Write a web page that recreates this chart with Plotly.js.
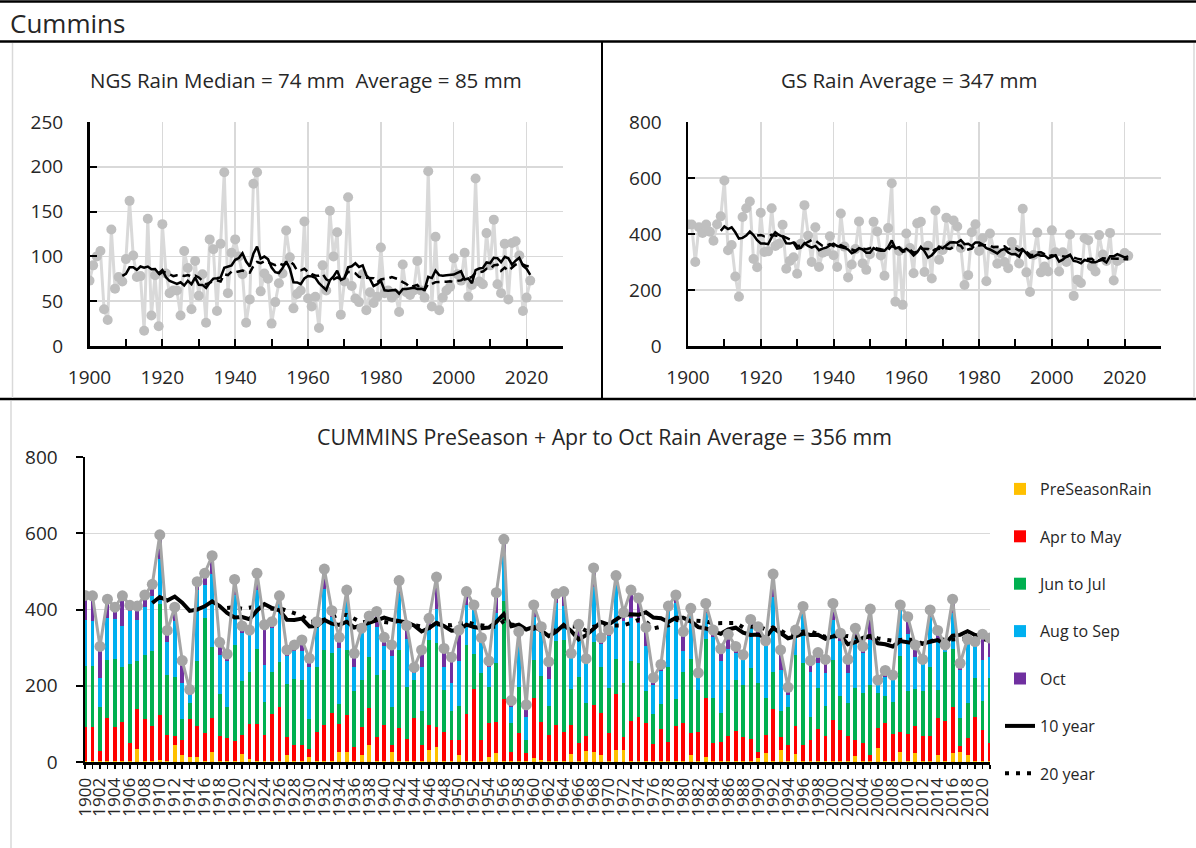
<!DOCTYPE html>
<html><head><meta charset="utf-8">
<script src="https://cdn.plot.ly/plotly-3.0.1.min.js"></script>
<style>html,body{margin:0;padding:0;background:#fff}#chart{width:1196px;height:848px}</style>
</head><body><div id="chart"></div>
<script>
const years = [1900,1901,1902,1903,1904,1905,1906,1907,1908,1909,1910,1911,1912,1913,1914,1915,1916,1917,1918,1919,
1920,1921,1922,1923,1924,1925,1926,1927,1928,1929,1930,1931,1932,1933,1934,1935,1936,1937,1938,1939,
1940,1941,1942,1943,1944,1945,1946,1947,1948,1949,1950,1951,1952,1953,1954,1955,1956,1957,1958,1959,
1960,1961,1962,1963,1964,1965,1966,1967,1968,1969,1970,1971,1972,1973,1974,1975,1976,1977,1978,1979,
1980,1981,1982,1983,1984,1985,1986,1987,1988,1989,1990,1991,1992,1993,1994,1995,1996,1997,1998,1999,
2000,2001,2002,2003,2004,2005,2006,2007,2008,2009,2010,2011,2012,2013,2014,2015,2016,2017,2018,2019,
2020,2021];

const ngsRain = [73,90,100,106,41,29,130,64,77,72, 97,162,101,77,78,17,142,34,79,22,
136,81,59,62,62,34,106,87,41,95, 56,80,26,119,108,39,114,194,59,104,
119,100,80,26,52,181,194,61,81,75, 25,49,70,81,129,99,42,58,62,139,
53,44,55,20,90,62,151,100,127,35, 72,166,67,53,49,80,40,60,48,55,
110,59,62,54,58,38,91,60,57,62, 95,62,54,195,44,122,40,54,62,66,
98,80,73,104,55,68,187,72,69,126, 90,141,69,59,114,52,115,117,101,39,
54,73];

const preSeasonRain = [3,2,3,3,2,2,3,33,3,3, 5,3,45,18,14,12,3,25,3,2,
3,21,8,3,3,3,3,18,3,3, 14,3,3,3,27,27,3,18,45,3,
3,25,3,3,3,3,31,40,3,3, 18,3,3,3,14,23,3,3,3,3,
10,5,3,3,3,21,3,30,25,18, 3,31,31,3,3,3,3,3,3,3,
3,18,3,14,3,3,3,3,3,3, 10,23,3,31,3,21,3,3,3,3,
3,3,3,16,3,3,36,3,3,27, 3,23,3,3,18,3,23,25,18,3,
3,3];

const aprToMay = [90,91,25,113,91,102,46,105,109,91, 117,68,22,40,98,83,74,90,65,60,
52,50,91,97,68,122,140,47,41,42, 19,77,94,125,73,96,37,73,96,63,
94,20,87,58,113,41,66,51,77,55, 41,122,189,55,89,83,161,24,74,20,
157,100,68,94,77,76,46,38,125,110, 74,147,34,105,116,98,44,83,50,91,
98,59,77,153,48,49,66,79,62,58, 15,48,135,35,42,73,42,55,83,65,
107,81,65,42,46,15,54,98,70,53, 70,71,65,65,97,105,120,17,46,114,
81,46];

const junToJul = [160,159,116,152,176,144,208,128,169,196, 293,158,157,54,43,171,302,186,110,81,
252,142,138,196,87,112,120,139,173,170, 79,170,197,157,52,171,147,124,135,162,
144,98,204,137,99,91,223,220,110,77, 88,182,91,176,95,153,257,74,121,35,
101,120,76,220,240,94,173,86,166,120, 118,93,141,157,140,84,78,66,195,70,
136,192,109,155,116,77,120,133,137,185, 181,96,99,69,100,187,214,61,107,79,
158,89,86,137,131,184,90,72,85,198, 112,97,117,180,74,180,153,73,92,103,
77,172];

const augToSep = [120,119,77,111,105,109,138,107,125,146, 117,87,147,94,21,185,86,192,103,122,
130,125,101,155,97,114,152,74,74,75, 136,105,159,96,146,127,61,123,97,127,
62,135,149,124,19,113,26,90,60,71, 119,105,116,77,52,131,127,44,124,61,
113,115,70,100,88,85,107,105,144,62, 135,194,165,112,105,120,77,88,147,252,
53,115,36,68,162,137,107,70,70,109, 123,137,197,106,31,60,131,118,66,87,
105,145,79,130,105,118,26,50,57,121, 151,84,74,133,127,15,96,126,162,93,
107,55];

const octRain = [64,65,82,48,32,79,16,36,32,30, 64,29,35,60,14,22,30,48,33,18,
42,19,8,44,105,17,21,16,16,30, 24,13,53,16,29,30,37,13,10,40,
24,29,33,36,14,46,31,84,48,69, 80,35,13,15,15,54,36,16,20,31,
31,15,46,24,39,9,32,12,49,16, 16,24,21,74,66,48,19,16,14,22,
52,19,9,26,17,31,39,18,9,19, 26,14,59,53,20,5,18,29,28,35,
43,20,36,26,18,81,9,17,13,13, 45,32,10,18,29,4,35,18,4,3,
67,49];

const topTickYears = [1900,1920,1940,1960,1980,2000,2020];

function trailingMean(arr, n) {
  return arr.map((v, i) => {
    if (i < n - 1) return null;
    let s = 0;
    for (let k = i - n + 1; k <= i; k++) s += arr[k];
    return s / n;
  });
}

const gsRain = years.map((y, i) => aprToMay[i] + junToJul[i] + augToSep[i] + octRain[i]);
const totalRain = years.map((y, i) => preSeasonRain[i] + gsRain[i]);

const W = 1196, H = 848;
const px = x => x / W;
const py = y => 1 - y / H;

const traces = [];
// Top-left NGS
traces.push({x: years, y: ngsRain, xaxis: 'x', yaxis: 'y', type: 'scatter', mode: 'lines+markers',
  line: {color: '#D9D9D9', width: 3}, marker: {color: '#BFBFBF', size: 10}, showlegend: false});
traces.push({x: years, y: trailingMean(ngsRain, 10), xaxis: 'x', yaxis: 'y', type: 'scatter', mode: 'lines',
  line: {color: 'black', width: 2.5}, showlegend: false});
traces.push({x: years, y: trailingMean(ngsRain, 20), xaxis: 'x', yaxis: 'y', type: 'scatter', mode: 'lines',
  line: {color: 'black', width: 2.5, dash: '8px,5px'}, showlegend: false});
// Top-right GS
traces.push({x: years, y: gsRain, xaxis: 'x2', yaxis: 'y2', type: 'scatter', mode: 'lines+markers',
  line: {color: '#D9D9D9', width: 3}, marker: {color: '#BFBFBF', size: 10}, showlegend: false});
traces.push({x: years, y: trailingMean(gsRain, 10), xaxis: 'x2', yaxis: 'y2', type: 'scatter', mode: 'lines',
  line: {color: 'black', width: 2.5}, showlegend: false});
traces.push({x: years, y: trailingMean(gsRain, 20), xaxis: 'x2', yaxis: 'y2', type: 'scatter', mode: 'lines',
  line: {color: 'black', width: 2.5, dash: '8px,5px'}, showlegend: false});
// Bottom stacked bars
const barDefs = [
  ['PreSeasonRain', preSeasonRain, '#FFC000'],
  ['Apr to May', aprToMay, '#FF0000'],
  ['Jun to Jul', junToJul, '#00B050'],
  ['Aug to Sep', augToSep, '#00B0F0'],
  ['Oct', octRain, '#7030A0']
];
barDefs.forEach((d, k) => {
  traces.push({x: years, y: d[1], name: d[0], type: 'bar', xaxis: 'x3', yaxis: 'y3', width: 0.52,
    marker: {color: d[2], line: {width: 0}}, legendgroup: 'g' + k, showlegend: true});
});
traces.push({x: years, y: trailingMean(totalRain, 10), name: '10 year', xaxis: 'x3', yaxis: 'y3', type: 'scatter', mode: 'lines',
  line: {color: 'black', width: 4}, legendgroup: 'g5', showlegend: true});
traces.push({x: years, y: trailingMean(totalRain, 20), name: '20 year', xaxis: 'x3', yaxis: 'y3', type: 'scatter', mode: 'lines',
  line: {color: 'black', width: 4, dash: '4px,7px'}, legendgroup: 'g6', showlegend: true});
traces.push({x: years, y: totalRain, name: 'Total', xaxis: 'x3', yaxis: 'y3', type: 'scatter', mode: 'lines+markers',
  line: {color: '#A5A5A5', width: 3}, marker: {color: '#A5A5A5', size: 11}, showlegend: false});

const tickFont = {size: 19, color: '#262626', family: 'Open Sans, sans-serif'};

function topX(d0, d1) {
  return {domain: [px(d0), px(d1)], range: [1900, 2030], tickmode: 'array', tickvals: topTickYears,
    showgrid: true, gridcolor: '#D9D9D9', gridwidth: 1.5, showline: true, linecolor: 'black', linewidth: 2.5,
    ticks: 'inside', ticklen: 7, tickwidth: 2, tickcolor: 'black',
    minor: {dtick: 10, tick0: 1900, ticks: 'inside', ticklen: 7, tickwidth: 2, tickcolor: 'black', showgrid: false},
    zeroline: false, fixedrange: true, tickfont: tickFont, ticklabelstandoff: 13};
}
function topY(maxV, step, anchor) {
  return {domain: [py(346), py(122)], range: [0, maxV], dtick: step, tick0: 0, anchor: anchor,
    showgrid: true, gridcolor: '#D9D9D9', gridwidth: 1.5, showline: true, linecolor: 'black', linewidth: 2.5,
    ticks: 'inside', ticklen: 7, tickwidth: 2, tickcolor: 'black', zeroline: false, fixedrange: true,
    tickfont: tickFont, ticklabelstandoff: 20};
}

const layout = {
  width: W, height: H, margin: {l: 0, r: 0, t: 0, b: 0, pad: 0},
  paper_bgcolor: 'white', plot_bgcolor: 'rgba(0,0,0,0)',
  font: {family: 'Open Sans, sans-serif', color: '#262626'},
  barmode: 'stack',
  showlegend: true,
  legend: {x: px(1000), y: py(472), xanchor: 'left', yanchor: 'top', font: {size: 16, color: '#262626'},
    traceorder: 'grouped', tracegroupgap: 23.6, bgcolor: 'rgba(0,0,0,0)', itemwidth: 30},
  xaxis: Object.assign(topX(89.5, 563), {anchor: 'y'}),
  yaxis: topY(250, 50, 'x'),
  xaxis2: Object.assign(topX(688, 1161), {anchor: 'y2'}),
  yaxis2: topY(800, 200, 'x2'),
  xaxis3: {domain: [px(85), px(990)], range: [1900, 2021], anchor: 'y3', dtick: 2, tick0: 1900, tickangle: -90,
    showgrid: false, showline: true, linecolor: 'black', linewidth: 3, zeroline: false,
    ticks: 'outside', ticklen: 4, tickwidth: 1.5, tickcolor: 'black',
    minor: {dtick: 1, tick0: 1900, ticks: 'outside', ticklen: 4, tickwidth: 1.5, tickcolor: 'black', showgrid: false},
    tickfont: {size: 17, color: '#262626', family: 'Open Sans, sans-serif'}, ticklabelstandoff: 2, fixedrange: true},
  yaxis3: {domain: [py(762), py(457)], range: [0, 800], dtick: 200, tick0: 0, anchor: 'x3',
    showgrid: true, gridcolor: '#D9D9D9', gridwidth: 1.5, showline: true, linecolor: 'black', linewidth: 2.5,
    ticks: 'outside', ticklen: 7, tickwidth: 2, tickcolor: 'black', zeroline: false, fixedrange: true,
    tickfont: tickFont, ticklabelstandoff: 14},
  shapes: [
    {type: 'line', xref: 'paper', yref: 'paper', x0: 0, x1: 1, y0: py(1.5), y1: py(1.5), line: {color: 'black', width: 2.5}},
    {type: 'line', xref: 'paper', yref: 'paper', x0: 0, x1: 1, y0: py(41.5), y1: py(41.5), line: {color: 'black', width: 2.5}},
    {type: 'line', xref: 'paper', yref: 'paper', x0: 0, x1: 1, y0: py(399), y1: py(399), line: {color: 'black', width: 2.5}},
    {type: 'line', xref: 'paper', yref: 'paper', x0: px(602), x1: px(602), y0: py(42), y1: py(399), line: {color: 'black', width: 2}},
    {type: 'line', xref: 'paper', yref: 'paper', x0: px(12.5), x1: px(12.5), y0: py(43), y1: py(398), line: {color: '#D9D9D9', width: 1.5}},
    {type: 'line', xref: 'paper', yref: 'paper', x0: px(1194), x1: px(1194), y0: py(43), y1: py(398), line: {color: '#D9D9D9', width: 1.5}},
    {type: 'line', xref: 'paper', yref: 'paper', x0: px(11), x1: px(11), y0: py(401), y1: py(848), line: {color: '#D9D9D9', width: 1.5}}
  ],
  annotations: [
    {xref: 'paper', yref: 'paper', x: px(8), y: py(23), xanchor: 'left', yanchor: 'middle', showarrow: false,
      text: 'Cummins', font: {size: 26, color: '#262626', family: 'Open Sans, sans-serif'}},
    {xref: 'paper', yref: 'paper', x: px(306), y: py(80), xanchor: 'center', yanchor: 'middle', showarrow: false,
      text: 'NGS Rain Median = 74 mm\u00a0 Average = 85 mm', font: {size: 20.5, color: '#262626'}},
    {xref: 'paper', yref: 'paper', x: px(909), y: py(80), xanchor: 'center', yanchor: 'middle', showarrow: false,
      text: 'GS Rain Average = 347 mm', font: {size: 20.5, color: '#262626'}},
    {xref: 'paper', yref: 'paper', x: px(604), y: py(436), xanchor: 'center', yanchor: 'middle', showarrow: false,
      text: 'CUMMINS PreSeason + Apr to Oct Rain Average = 356 mm', font: {size: 21.3, color: '#262626'}}
  ]
};

Plotly.newPlot('chart', traces, layout, {displayModeBar: false, staticPlot: true});
</script>
</body></html>
